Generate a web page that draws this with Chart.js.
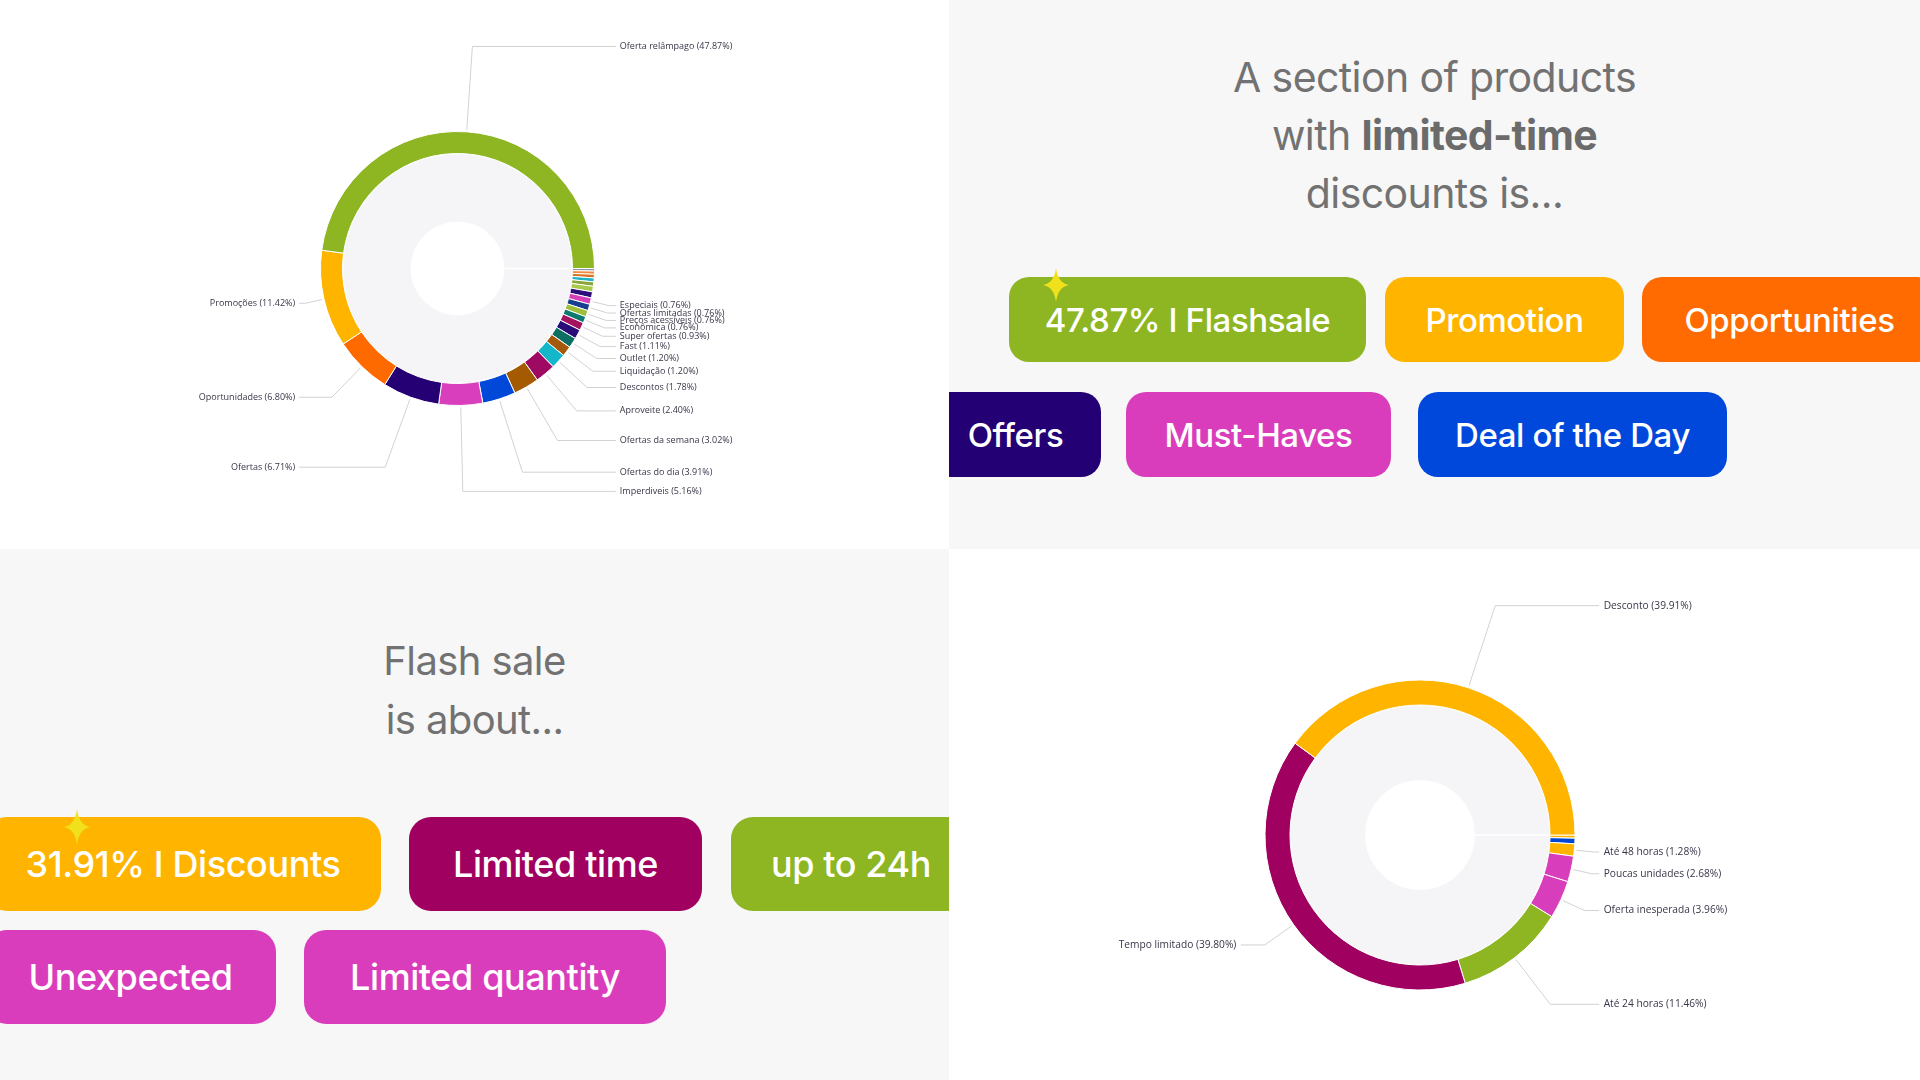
<!DOCTYPE html>
<html>
<head>
<meta charset="utf-8">
<script src="https://cdn.jsdelivr.net/npm/chart.js@4.4.1/dist/chart.umd.min.js"></script>
<style>
  body { margin: 0; width: 1920px; height: 1080px; overflow: hidden; position: relative; background: #fff; font-family: Inter, "Noto Sans", sans-serif; }
  .quad { position: absolute; overflow: hidden; }
  .gray { background: #f7f7f7; }
  .title { position: absolute; left: 0; width: 100%; text-align: center; color: #727272; letter-spacing: -0.6px; }
  .title b { font-weight: 700; color: #6b6b6b; }
  .pill { position: absolute; color: #fff; font-weight: 500; display: flex; align-items: center; justify-content: center; white-space: nowrap; letter-spacing: -0.4px; }
  .tr .pill { height: 85px; border-radius: 20px; font-size: 33px; }
  .bl .pill { height: 94px; border-radius: 22px; font-size: 36px; }
  .star { position: absolute; }
</style>
</head>
<body>

<div class="quad" style="left:0;top:0;width:949px;height:549px;background:#fff">
  <div style="position:relative;width:949px;height:549px"><canvas id="offersChart"></canvas></div>
</div>

<div class="quad gray tr" style="left:949px;top:0;width:971px;height:549px">
  <div class="title" style="top:48px;font-size:41px;line-height:58px">A section of products<br>with <b>limited-time</b><br>discounts is...</div>
  <div class="pill" style="left:60px;top:277px;width:357px;background:#8db622">47.87% I Flashsale</div>
  <div class="pill" style="left:436px;top:277px;width:239px;background:#ffb400">Promotion</div>
  <div class="pill" style="left:693px;top:277px;width:295px;background:#ff6b00">Opportunities</div>
  <div class="pill" style="left:-19px;top:392px;width:171px;background:#230074">Offers</div>
  <div class="pill" style="left:177px;top:392px;width:265px;background:#da3dbb">Must-Haves</div>
  <div class="pill" style="left:469px;top:392px;width:309px;background:#0047db">Deal of the Day</div>
  <svg class="star" style="left:94px;top:268px" width="26" height="34" viewBox="0 0 26 34"><path d="M13 0 Q15 15 26 17 Q15 19 13 34 Q11 19 0 17 Q11 15 13 0 Z" fill="#f0e11c"/></svg>
</div>

<div class="quad gray bl" style="left:0;top:549px;width:949px;height:531px">
  <div class="title" style="top:82px;font-size:40px;line-height:59px">Flash sale<br>is about...</div>
  <div class="pill" style="left:-15px;top:268px;width:396px;background:#ffb400">31.91% I Discounts</div>
  <div class="pill" style="left:409px;top:268px;width:293px;background:#a0005f">Limited time</div>
  <div class="pill" style="left:731px;top:268px;width:240px;background:#8db622">up to 24h</div>
  <div class="pill" style="left:-15px;top:381px;width:291px;background:#da3dbb">Unexpected</div>
  <div class="pill" style="left:304px;top:381px;width:362px;background:#da3dbb">Limited quantity</div>
  <svg class="star" style="left:64px;top:260px" width="26" height="36" viewBox="0 0 26 36"><path d="M13 0 Q15 16 26 18 Q15 20 13 36 Q11 20 0 18 Q11 16 13 0 Z" fill="#f0e11c"/></svg>
</div>

<div class="quad" style="left:949px;top:549px;width:971px;height:531px;background:#fff">
  <div style="position:relative;width:971px;height:531px"><canvas id="flashChart"></canvas></div>
</div>

<script>
// top-left chart: slices clockwise from 3 o'clock, smallest first
const offerLabels = ['Outros 1', 'Outros 2', 'Outros 3', 'Outros 4', 'Outros 5', 'Outros 6', 'Outros 7',
  'Especiais', 'Ofertas limitadas', 'Preços acessíveis', 'Econômica', 'Super ofertas', 'Fast', 'Outlet',
  'Liquidação', 'Descontos', 'Aproveite', 'Ofertas da semana', 'Ofertas do dia', 'Imperdiveis',
  'Ofertas', 'Oportunidades', 'Promoções', 'Oferta relâmpago'];
const offerValues = [0.30, 0.38, 0.42, 0.46, 0.52, 0.65, 0.72,
  0.76, 0.76, 0.76, 0.76, 0.93, 1.11, 1.20,
  1.20, 1.78, 2.40, 3.02, 3.91, 5.16,
  6.71, 6.80, 11.42, 47.87];
const offerColors = ['#8c90a8', '#f08a3c', '#d9731f', '#20b3c6', '#8aa83a', '#a8c94a', '#2b0e7a',
  '#d63fb8', '#16408f', '#9dbf3a', '#0c7a6e', '#a3135f', '#2b0d78', '#0f6e62',
  '#a45a0a', '#14b6c9', '#9e0a62', '#a35a00', '#0048d8', '#d93fbc',
  '#250075', '#ff6a00', '#ffb400', '#8db622'];

// bottom-right chart
const flashLabels = ['Outros 1', 'Outros 2', 'Até 48 horas', 'Poucas unidades', 'Oferta inesperada',
  'Até 24 horas', 'Tempo limitado', 'Desconto'];
const flashValues = [0.33, 0.58, 1.28, 2.68, 3.96, 11.46, 39.80, 39.91];
const flashColors = ['#ffb400', '#0047d6', '#ffb400', '#d83ebb', '#d83ebb', '#8db622', '#a0005f', '#ffb400'];

const LABEL_MIN = 0.75;  // smaller slices get no label

// labels with elbow leader lines, power bi style
const leaderLabels = {
  id: 'leaderLabels',
  afterDatasetsDraw(chart) {
    const meta = chart.getDatasetMeta(0);
    const ds = chart.data.datasets[0];
    const total = ds.data.reduce((a, b) => a + b, 0);
    const ctx = chart.ctx;
    ctx.save();
    meta.data.forEach((arc, i) => {
      const v = ds.data[i];
      if (v < LABEL_MIN) return;
      const p = arc.getProps(['x', 'y', 'startAngle', 'endAngle', 'outerRadius'], true);
      const R = p.outerRadius;
      const k = R / 137;
      const mid = (p.startAngle + p.endAngle) / 2;
      const cos = Math.cos(mid), sin = Math.sin(mid);
      const s = Math.abs(sin);
      const right = cos >= 0;
      const ly = p.y + sin * (R + k * (18 + 68 * s * s * s));
      const lx = p.x + (right ? 1 : -1) * R * 1.185;
      const r0 = R + 2 * k;
      const sx = p.x + cos * r0, sy = p.y + sin * r0;
      let ex = s > 0.01 ? p.x + cos * ((ly - p.y) / sin) : lx;
      if (right) ex = Math.min(ex, lx - 7 * k);
      else ex = Math.max(ex, lx + 7 * k);

      ctx.strokeStyle = '#d2d2d2';
      ctx.lineWidth = 1;
      ctx.beginPath();
      ctx.moveTo(sx, sy);
      ctx.lineTo(ex, ly);
      ctx.lineTo(lx + (right ? -4 : 4) * k, ly);
      ctx.stroke();

      ctx.font = (9 * k).toFixed(1) + 'px "Open Sans", "Noto Sans", sans-serif';
      ctx.fillStyle = '#3a3548';
      ctx.textBaseline = 'middle';
      ctx.textAlign = right ? 'left' : 'right';
      ctx.fillText(chart.data.labels[i] + ' (' + (v / total * 100).toFixed(2) + '%)', lx, ly);
    });
    ctx.restore();
  }
};

function makeDonut(id, labels, values, colors, radius, ringWidth, hole, padding) {
  return new Chart(document.getElementById(id), {
    type: 'doughnut',
    data: {
      labels: labels,
      datasets: [
        { data: values, backgroundColor: colors, borderColor: '#ffffff', borderWidth: 1, weight: ringWidth },
        { data: [1], backgroundColor: '#f5f5f7', borderColor: '#ffffff', borderWidth: 1.5, weight: radius - ringWidth - hole }
      ]
    },
    options: {
      responsive: true,
      maintainAspectRatio: false,
      animation: false,
      events: [],
      rotation: 90,
      radius: radius,
      cutout: (hole / radius * 100) + '%',
      layout: { padding: padding },
      plugins: { legend: { display: false }, tooltip: { enabled: false } }
    },
    plugins: [leaderLabels]
  });
}

makeDonut('offersChart', offerLabels, offerValues, offerColors, 137, 22, 46, { top: 0, left: 0, right: 34, bottom: 12 });
makeDonut('flashChart', flashLabels, flashValues, flashColors, 155, 25, 54, { top: 41, left: 0, right: 29, bottom: 0 });
</script>
</body>
</html>
